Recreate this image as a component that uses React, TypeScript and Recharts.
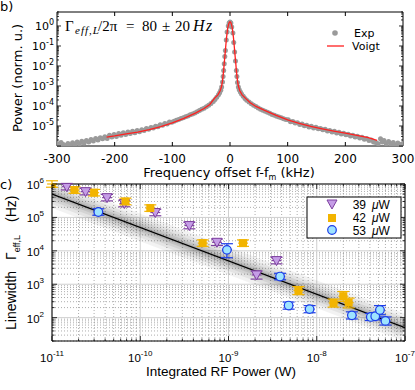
import React from "react";
import {
  ComposedChart,
  Scatter,
  Line,
  XAxis,
  YAxis,
  CartesianGrid,
  ErrorBar,
  ReferenceArea,
} from "recharts";

// ---------- panel b: beat-note spectrum ----------
const expFreq = [
  -299, -296, -293, -289, -285, -281, -277, -273, -269, -265, -261, -257, -253, -249, -245, -241,
  -237, -233, -229, -225, -221, -217, -213, -209, -205, -201, -197, -193, -189, -185, -181, -177,
  -173, -169, -165, -161, -157, -153, -149, -145, -141, -137, -133, -129, -125, -121, -117, -113,
  -109, -105, -101, -97, -93, -89, -85, -81, -77, -73, -69, -65, -61, -57, -53, -49, -45, -41, -37,
  -33, -29, -26, -23, -20, -18, -16, -14.5, -13, -12, -11, -10, -9, -8, -6.5, -5, -3, -1.5, 0, 1.5,
  3, 5, 6.5, 8, 9.5, 11, 12, 13, 14.5, 16, 18, 20, 23, 26, 29, 33, 37, 41, 45, 49, 53, 57, 61, 65,
  69, 73, 77, 81, 85, 89, 93, 97, 101, 105, 109, 113, 117, 121, 125, 129, 133, 137, 141, 145, 149,
  153, 157, 161, 165, 169, 173, 177, 181, 185, 189, 193, 197, 201, 205, 209, 213, 217, 221, 225,
  229, 233, 237, 241, 245, 249, 253, 257, 261, 264, 267, 271, 275, 279, 283, 287, 291, 295, 299,
];
const expPower = [
  1.3e-6, 1.1e-6, 1.5e-6, 1.2e-6, 1.05e-6, 1.35e-6, 1.1e-6, 1.45e-6, 1.2e-6, 1.6e-6, 1.3e-6,
  1.75e-6, 1.4e-6, 1.9e-6, 1.6e-6, 2.1e-6, 1.8e-6, 2.4e-6, 2.0e-6, 2.6e-6, 2.3e-6, 2.9e-6,
  2.4e-6, 3.4e-6, 2.8e-6, 3.8e-6, 3.0e-6, 4.2e-6, 3.4e-6, 4.6e-6, 3.8e-6, 5.0e-6, 4.2e-6, 5.5e-6,
  4.6e-6, 6.0e-6, 5.2e-6, 6.5e-6, 5.9e-6, 7.4e-6, 6.8e-6, 8.3e-6, 7.9e-6, 9.6e-6, 9.2e-6,
  1.15e-5, 1.08e-5, 1.35e-5, 1.26e-5, 1.58e-5, 1.55e-5, 1.75e-5, 1.95e-5, 2.1e-5, 2.35e-5, 2.6e-5,
  2.9e-5, 3.2e-5, 3.6e-5, 4.0e-5, 4.5e-5, 5.2e-5, 5.9e-5, 6.8e-5, 7.8e-5, 9.2e-5, 1.1e-4, 1.35e-4,
  1.7e-4, 2.1e-4, 2.7e-4, 3.6e-4, 4.6e-4, 6.2e-4, 9e-4, 1.6e-3, 3e-3, 6e-3, 0.013, 0.03, 0.06,
  0.2, 0.5, 1.0, 1.4, 1.6, 1.4, 0.9, 0.45, 0.15, 0.05, 0.018, 6e-3, 3e-3, 1.5e-3, 9e-4, 6.5e-4,
  5e-4, 4e-4, 3.1e-4, 2.4e-4, 1.95e-4, 1.6e-4, 1.3e-4, 1.1e-4, 9.3e-5, 8.0e-5, 6.9e-5, 6.1e-5,
  5.4e-5, 4.8e-5, 4.3e-5, 3.8e-5, 3.4e-5, 3.1e-5, 2.8e-5, 2.55e-5, 2.3e-5, 2.1e-5, 2.05e-5,
  1.65e-5, 1.7e-5, 1.4e-5, 1.45e-5, 1.2e-5, 1.25e-5, 1.02e-5, 1.1e-5, 9.0e-6, 9.7e-6, 8.0e-6,
  8.7e-6, 7.2e-6, 7.6e-6, 6.4e-6, 6.8e-6, 5.6e-6, 6.0e-6, 5.0e-6, 5.4e-6, 4.5e-6, 4.8e-6, 4.0e-6,
  4.3e-6, 3.6e-6, 3.9e-6, 3.2e-6, 3.4e-6, 2.8e-6, 3.1e-6, 2.5e-6, 2.7e-6, 2.2e-6, 2.35e-6, 1.9e-6,
  2.0e-6, 1.6e-6, 1.5e-6, 1.3e-6, 2.3e-6, 1.6e-6, 1.9e-6, 1.3e-6, 1.7e-6, 1.2e-6, 1.5e-6, 1.1e-6,
  1.4e-6, 1.2e-6, 1.3e-6,
];
const voigtFreq = [
  -214, -200, -180, -160, -140, -120, -100, -80, -60, -45, -35, -27, -21, -17, -14.5, -13, -12, -11,
  -10, -9, -8, -7, -6, -5, -4, -3, -2, -1, 0, 1, 2, 3, 4, 5, 6, 7, 8, 9, 10, 11, 12, 13, 14.5, 17,
  21, 27, 35, 45, 60, 80, 100, 120, 140, 160, 180, 200, 220, 240, 255,
];
const voigtPower = [
  2.8e-6, 3.2e-6, 4.0e-6, 5.0e-6, 6.6e-6, 9.2e-6, 1.45e-5, 2.4e-5, 4.4e-5, 7.5e-5, 1.2e-4, 2.4e-4,
  3.6e-4, 5.8e-4, 1e-3, 1.8e-3, 3.2e-3, 6e-3, 0.014, 0.028, 0.06, 0.13, 0.26, 0.46, 0.75, 1.05,
  1.35, 1.55, 1.62, 1.55, 1.35, 1.05, 0.75, 0.46, 0.26, 0.13, 0.06, 0.028, 0.014, 6e-3, 3.2e-3,
  1.8e-3, 1e-3, 5.8e-4, 3.6e-4, 2.4e-4, 1.45e-4, 9.5e-5, 6.0e-5, 3.4e-5, 2.0e-5, 1.35e-5, 9.5e-6,
  7.2e-6, 5.6e-6, 4.4e-6, 3.4e-6, 2.6e-6, 1.9e-6,
];
const freqTicks = [-300, -200, -100, 0, 100, 200, 300];

// ---------- panel c: linewidth vs integrated RF power ----------
const power39 = [1.47e-11, 2.4e-11, 4.2e-11, 6.6e-11, 1.48e-10, 3.6e-10, 7.4e-10, 2.08e-9, 3.5e-9];
const width39 = [8.3e5, 5.9e5, 3.9e5, 2.6e5, 1.4e5, 5.7e4, 1.8e4, 1.9e3, 5.1e3];
const yErr39 = [0.2, 0.2, 0.2, 0.2, 0.2, 0.2, 0.2, 0.25, 0.2];

const power42 = [1.0e-11, 1.8e-11, 3.0e-11, 6.8e-11, 1.3e-10, 5.1e-10, 1.46e-9, 6.2e-9, 1.55e-8, 2.0e-8, 2.3e-8];
const width42 = [1.0e6, 6.6e5, 5.5e5, 3.0e5, 1.9e5, 1.7e4, 1.7e4, 650, 275, 440, 280];
const yErr42 = [0.2, 0.2, 0.2, 0.2, 0.2, 0.2, 0.2, 0.25, 0.25, 0.3, 0.3];

const power53 = [3.35e-11, 9.6e-10, 3.84e-9, 4.8e-9, 8.3e-9, 2.5e-8, 4.1e-8, 4.6e-8, 5.2e-8, 6.0e-8];
const width53 = [1.45e5, 1.07e4, 1.7e3, 230, 180, 117, 105, 110, 170, 80];
const yErr53 = [0.2, 0.42, 0.2, 0.22, 0.22, 0.22, 0.22, 0.22, 0.28, 0.25];

const fitPower = [1e-11, 1e-7];
const fitWidth = [5e5, 50];
const xErrRel = [0.12, 0.14];

// plot box sizes in px
const B_W = 346;
const B_H = 134;
const C_W = 353;
const C_H = 157;

const FONT_B = "DejaVu Sans, sans-serif";
const FONT_C = "Liberation Sans, Arial, sans-serif";
const SERIF = "Liberation Serif, serif";

function logTicks(lo: number, hi: number) {
  const out: number[] = [];
  for (let e = Math.floor(Math.log10(lo)); e <= Math.ceil(Math.log10(hi)); e++) {
    for (let m = 1; m <= 9; m++) {
      const v = Number((m * Math.pow(10, e)).toPrecision(6));
      if (v >= lo * 0.999 && v <= hi * 1.001) out.push(v);
    }
  }
  return out;
}
const isDecade = (v: number) => {
  const l = Math.log10(v);
  return Math.abs(l - Math.round(l)) < 1e-6;
};

const bYTicks = logTicks(1e-6, 5);
const cXTicks = logTicks(1e-11, 1e-7);
const cYTicks = logTicks(20, 1e6);
const cXMajor = cXTicks.filter(isDecade);
const cYMajor = cYTicks.filter(isDecade);
const cXMinor = cXTicks.filter((v) => !isDecade(v));
const cYMinor = cYTicks.filter((v) => !isDecade(v));

const expData = expFreq.map((f, i) => ({ f, p: expPower[i] }));
const voigtData = voigtFreq.map((f, i) => ({ f, p: voigtPower[i] }));

const mkSeries = (xs: number[], ys: number[], ye: number[]) =>
  xs.map((x, i) => ({
    x,
    y: ys[i],
    xErr: [x * xErrRel[0], x * xErrRel[1]],
    yErr: [ys[i] * ye[i], ys[i] * ye[i] * 1.25],
  }));
const data39 = mkSeries(power39, width39, yErr39);
const data42 = mkSeries(power42, width42, yErr42);
const data53 = mkSeries(power53, width53, yErr53);
const fitData = fitPower.map((x, i) => ({ x, y: fitWidth[i] }));

const PURPLE_FILL = "#c59de6";
const PURPLE = "#7d3f9f";
const GOLD = "#f2b400";
const BLUE_FILL = "#9ee3ff";
const BLUE = "#1c3de8";
const RED = "#ff2020";

const Tri = (p: any) => (
  <polygon
    points={`${p.cx - 5},${p.cy - 4} ${p.cx + 5},${p.cy - 4} ${p.cx},${p.cy + 5}`}
    fill={PURPLE_FILL}
    stroke={PURPLE}
    strokeWidth={1}
  />
);
const Sq = (p: any) => <rect x={p.cx - 4} y={p.cy - 4} width={8} height={8} fill={GOLD} />;
const Circ = (p: any) => <circle cx={p.cx} cy={p.cy} r={4.3} fill={BLUE_FILL} stroke={BLUE} strokeWidth={1.2} />;
const Dot = (p: any) => <circle cx={p.cx} cy={p.cy} r={2.5} fill="#9a9a9a" />;

function BXTick({ x, y, payload }: any) {
  const v = payload.value;
  const edge = Math.abs(v) === 300;
  return (
    <g>
      {!edge && (
        <>
          <line x1={x} x2={x} y1={y} y2={y - 4} stroke="#000" />
          <line x1={x} x2={x} y1={y - B_H} y2={y - B_H + 4} stroke="#000" />
        </>
      )}
      <text x={x} y={y + 17} textAnchor="middle" fontFamily={FONT_B} fontSize={12} fill="#000">
        {v}
      </text>
    </g>
  );
}

function BYTick({ x, y, payload }: any) {
  const v = payload.value;
  const dec = isDecade(v);
  const len = dec ? 4 : 2;
  const e = Math.round(Math.log10(v));
  return (
    <g>
      <line x1={x} x2={x + len} y1={y} y2={y} stroke="#000" strokeWidth={0.8} />
      <line x1={x + B_W} x2={x + B_W - len} y1={y} y2={y} stroke="#000" strokeWidth={0.8} />
      {dec && e >= -5 && (
        <text x={x - 3} y={y + 4} textAnchor="end" fontFamily={FONT_B} fontSize={11} fill="#000">
          10
          <tspan dy={-5} fontSize={8}>
            {e}
          </tspan>
        </text>
      )}
    </g>
  );
}

function CXTick({ x, y, payload }: any) {
  const v = payload.value;
  const dec = isDecade(v);
  const len = dec ? 5 : 2.5;
  const e = Math.round(Math.log10(v));
  return (
    <g>
      <line x1={x} x2={x} y1={y} y2={y - len} stroke="#000" strokeWidth={0.8} />
      <line x1={x} x2={x} y1={y - C_H} y2={y - C_H + len} stroke="#000" strokeWidth={0.8} />
      {dec && (
        <text x={x} y={y + 21} textAnchor="middle" fontFamily={FONT_C} fontSize={11.5} fill="#000">
          10
          <tspan dy={-6} fontSize={8}>
            {e}
          </tspan>
        </text>
      )}
    </g>
  );
}

function CYTick({ x, y, payload }: any) {
  const v = payload.value;
  const dec = isDecade(v);
  const len = dec ? 5 : 2.5;
  const e = Math.round(Math.log10(v));
  return (
    <g>
      <line x1={x} x2={x + len} y1={y} y2={y} stroke="#000" strokeWidth={0.8} />
      <line x1={x + C_W} x2={x + C_W - len} y1={y} y2={y} stroke="#000" strokeWidth={0.8} />
      {dec && (
        <text x={x - 8} y={y + 5} textAnchor="end" fontFamily={FONT_C} fontSize={11.5} fill="#000">
          10
          <tspan dy={-6} fontSize={8}>
            {e}
          </tspan>
        </text>
      )}
    </g>
  );
}

const axisCommon = {
  tickLine: false,
  axisLine: false,
  tickSize: 0,
  tickMargin: 0,
  interval: 0 as const,
  allowDataOverflow: true,
  type: "number" as const,
};

const glow = [
  { w: 26, o: 0.05 },
  { w: 19, o: 0.06 },
  { w: 13, o: 0.07 },
  { w: 8, o: 0.08 },
  { w: 4, o: 0.08 },
];

export default function App() {
  return (
    <div style={{ position: "absolute", left: 0, top: 0, width: 415, height: 390, background: "#fff" }}>
      <div style={{ position: "absolute", left: 0, top: 0 }}>
        <ComposedChart width={415} height={180} margin={{ top: 12, right: 12, bottom: 0, left: 0 }}>
          <XAxis {...axisCommon} dataKey="f" domain={[-300, 300]} ticks={freqTicks} tick={<BXTick />} height={34} />
          <YAxis {...axisCommon} dataKey="p" scale="log" domain={[1e-6, 5]} ticks={bYTicks} tick={<BYTick />} width={57} />
          <Scatter data={expData} shape={Dot} isAnimationActive={false} />
          <Line
            data={voigtData}
            dataKey="p"
            type="linear"
            stroke={RED}
            strokeWidth={1.3}
            dot={false}
            activeDot={false}
            zIndex={700}
            isAnimationActive={false}
          />
          <ReferenceArea x1={-300} x2={300} y1={1e-6} y2={5} fill="none" fillOpacity={0} stroke="#000" strokeWidth={1} />
        </ComposedChart>
      </div>

      <div style={{ position: "absolute", left: 0, top: 170 }}>
        <ComposedChart width={415} height={220} margin={{ top: 14, right: 10, bottom: 0, left: 0 }}>
          <CartesianGrid horizontalValues={cYMinor} verticalValues={cXMinor} stroke="#8a8a8a" strokeDasharray="1 2" strokeOpacity={0.7} />
          <CartesianGrid horizontalValues={cYMajor} verticalValues={cXMajor} stroke="#cfcfcf" />
          <XAxis {...axisCommon} dataKey="x" scale="log" domain={[1e-11, 1e-7]} ticks={cXTicks} tick={<CXTick />} height={49} />
          <YAxis {...axisCommon} dataKey="y" scale="log" domain={[20, 1e6]} ticks={cYTicks} tick={<CYTick />} width={52} />
          {glow.map((g, i) => (
            <Line
              key={i}
              data={fitData}
              dataKey="y"
              type="linear"
              stroke="#000"
              strokeOpacity={g.o}
              strokeWidth={g.w}
              dot={false}
              activeDot={false}
              isAnimationActive={false}
            />
          ))}
          <Line data={fitData} dataKey="y" type="linear" stroke="#000" strokeWidth={1.3} dot={false} activeDot={false} isAnimationActive={false} />
          <Scatter data={data39} shape={Tri} isAnimationActive={false}>
            <ErrorBar dataKey="xErr" direction="x" width={0} stroke={PURPLE} strokeWidth={1.2} />
            <ErrorBar dataKey="yErr" direction="y" width={6} stroke={PURPLE} strokeWidth={1.2} />
          </Scatter>
          <Scatter data={data42} shape={Sq} isAnimationActive={false}>
            <ErrorBar dataKey="xErr" direction="x" width={0} stroke={GOLD} strokeWidth={1.2} />
            <ErrorBar dataKey="yErr" direction="y" width={6} stroke={GOLD} strokeWidth={1.2} />
          </Scatter>
          <Scatter data={data53} shape={Circ} isAnimationActive={false}>
            <ErrorBar dataKey="xErr" direction="x" width={0} stroke={BLUE} strokeWidth={1.2} />
            <ErrorBar dataKey="yErr" direction="y" width={6} stroke={BLUE} strokeWidth={1.2} />
          </Scatter>
          <ReferenceArea x1={1e-11} x2={1e-7} y1={20} y2={1e6} fill="none" fillOpacity={0} stroke="#000" strokeWidth={1} />
        </ComposedChart>
      </div>

      <svg width={415} height={390} style={{ position: "absolute", left: 0, top: 0, pointerEvents: "none" }}>
        <text x={0} y={11} fontFamily={FONT_B} fontSize={13}>b)</text>
        <text x={0} y={189} fontFamily={FONT_B} fontSize={13}>c)</text>

        <text y={31} fontFamily={SERIF} fontSize={15}>
          <tspan x={65}>Γ</tspan>
          <tspan x={75} dy={3} fontSize={11} fontStyle="italic" letterSpacing={1}>eff,L</tspan>
          <tspan x={98} dy={-3}>/2π</tspan>
          <tspan x={126}>=</tspan>
          <tspan x={142}>80</tspan>
          <tspan x={162}>±</tspan>
          <tspan x={175}>20</tspan>
          <tspan x={193} fontStyle="italic" fontSize={16} letterSpacing={1.5}>Hz</tspan>
        </text>

        <circle cx={335} cy={33} r={2.8} fill="#9a9a9a" />
        <text x={354} y={37} fontFamily={FONT_B} fontSize={11}>Exp</text>
        <line x1={327} x2={344} y1={46} y2={46} stroke={RED} strokeWidth={1.3} />
        <text x={352} y={50} fontFamily={FONT_B} fontSize={11}>Voigt</text>

        <text transform="translate(22,78) rotate(-90)" textAnchor="middle" fontFamily={FONT_B} fontSize={13}>
          Power (norm. u.)
        </text>
        <text x={229} y={177} textAnchor="middle" fontFamily={FONT_B} fontSize={13}>
          Frequency offset f-f<tspan fontSize={8} dy={3}>m</tspan>
          <tspan dy={-3}> (kHz)</tspan>
        </text>

        <text x={221} y={376} textAnchor="middle" fontFamily={FONT_C} fontSize={13.5}>
          Integrated RF Power (W)
        </text>
        <g transform="translate(16,330) rotate(-90)" fontFamily={FONT_C} fontSize={14}>
          <text x={0} y={0}>Linewidth</text>
          <text x={70} y={0}>
            Γ<tspan fontSize={9} dy={4}>eff,L</tspan>
          </text>
          <text x={108} y={0}>(Hz)</text>
        </g>

        <rect x={307} y={197} width={94} height={41} fill="#fff" stroke="#000" strokeWidth={1} />
        <Tri cx={332} cy={204} />
        <Sq cx={332} cy={218} />
        <Circ cx={332} cy={230} />
        {[
          { t: "39", y: 208.5 },
          { t: "42", y: 221.5 },
          { t: "53", y: 234.5 },
        ].map((r) => (
          <text key={r.t} y={r.y} fontFamily={FONT_C} fontSize={12}>
            <tspan x={366} textAnchor="end">{r.t}</tspan>
            <tspan x={372} fontStyle="italic">μ</tspan>
            <tspan>W</tspan>
          </text>
        ))}
      </svg>
    </div>
  );
}
